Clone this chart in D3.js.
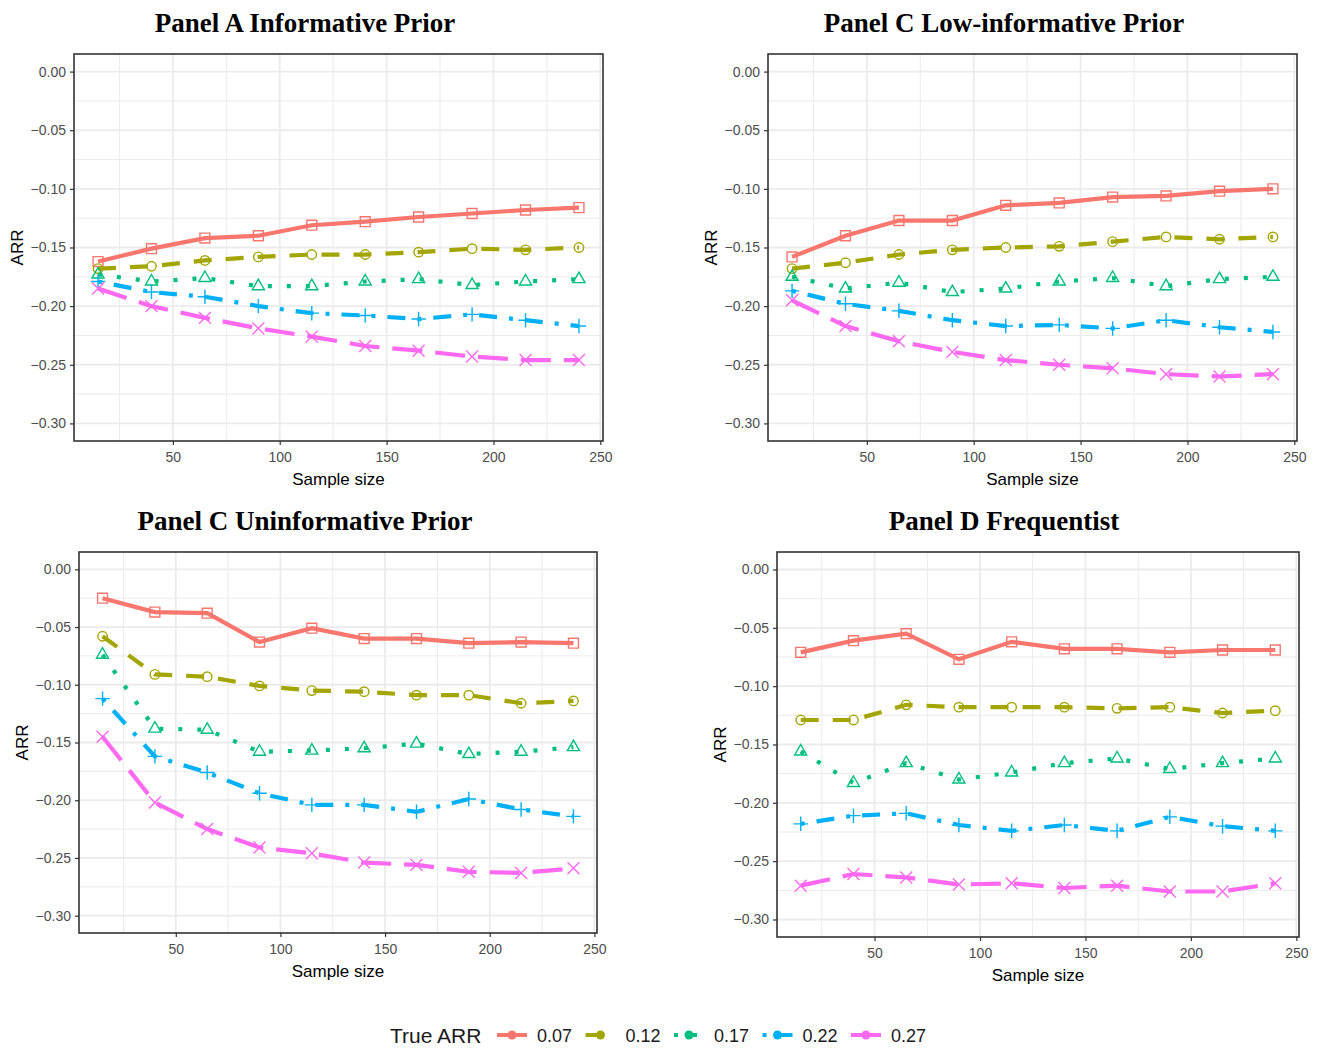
<!DOCTYPE html>
<html>
<head>
<meta charset="utf-8">
<script src="https://cdn.jsdelivr.net/npm/d3@7"></script>
<style>
    body { margin: 0; background: #fff; }
    svg text { font-family: "Liberation Sans", Arial, sans-serif; }
    .panel-title { font-family: "Liberation Serif", "Times New Roman", serif !important; font-weight: bold; }
</style>
</head>
<body>
<div id="chart"></div>
<script>

// x axis values (sample size per trial)
const sampleSizes = [15, 40, 65, 90, 115, 140, 165, 190, 215, 240];
const trueARR = ["0.07", "0.12", "0.17", "0.22", "0.27"];
const xTicks = [50, 100, 150, 200, 250];
const yTicks = [0, -0.05, -0.10, -0.15, -0.20, -0.25, -0.30];
const panelTitles = ["Panel A Informative Prior", "Panel C Low-informative Prior",
    "Panel C Uninformative Prior", "Panel D Frequentist"];

// estimated ARR, one row per true ARR (0.07 ... 0.27)
const informativePrior = [
    [-0.162, -0.151, -0.142, -0.140, -0.131, -0.128, -0.124, -0.121, -0.118, -0.116],
    [-0.168, -0.166, -0.161, -0.158, -0.156, -0.156, -0.154, -0.151, -0.152, -0.150],
    [-0.173, -0.179, -0.176, -0.183, -0.183, -0.179, -0.177, -0.182, -0.179, -0.177],
    [-0.179, -0.188, -0.192, -0.200, -0.206, -0.208, -0.211, -0.207, -0.212, -0.217],
    [-0.185, -0.200, -0.210, -0.219, -0.226, -0.234, -0.238, -0.243, -0.246, -0.246]
];
const lowInfoPrior = [
    [-0.158, -0.140, -0.127, -0.127, -0.114, -0.112, -0.107, -0.106, -0.102, -0.100],
    [-0.168, -0.163, -0.156, -0.152, -0.150, -0.149, -0.145, -0.141, -0.143, -0.141],
    [-0.175, -0.185, -0.180, -0.188, -0.185, -0.179, -0.176, -0.183, -0.177, -0.175],
    [-0.187, -0.198, -0.204, -0.212, -0.217, -0.216, -0.219, -0.212, -0.218, -0.222],
    [-0.195, -0.217, -0.230, -0.239, -0.246, -0.250, -0.253, -0.258, -0.260, -0.258]
];
const uninformativePrior = [
    [-0.025, -0.037, -0.038, -0.063, -0.051, -0.060, -0.060, -0.064, -0.063, -0.064],
    [-0.058, -0.091, -0.093, -0.101, -0.105, -0.106, -0.109, -0.109, -0.116, -0.114],
    [-0.074, -0.138, -0.139, -0.158, -0.157, -0.155, -0.151, -0.160, -0.158, -0.154],
    [-0.112, -0.162, -0.176, -0.194, -0.204, -0.204, -0.210, -0.199, -0.208, -0.214],
    [-0.145, -0.202, -0.225, -0.241, -0.246, -0.254, -0.256, -0.262, -0.263, -0.259]
];
const frequentist = [
    [-0.071, -0.061, -0.055, -0.077, -0.062, -0.068, -0.068, -0.071, -0.069, -0.069],
    [-0.129, -0.129, -0.116, -0.118, -0.118, -0.118, -0.119, -0.118, -0.123, -0.121],
    [-0.156, -0.183, -0.166, -0.180, -0.174, -0.166, -0.162, -0.171, -0.166, -0.162],
    [-0.218, -0.211, -0.209, -0.219, -0.224, -0.219, -0.224, -0.212, -0.220, -0.224],
    [-0.271, -0.261, -0.264, -0.270, -0.269, -0.273, -0.271, -0.276, -0.276, -0.269]
];

// ggplot default hue palette + line types + shapes
const colors = ['#F8766D', '#A3A500', '#00BF7D', '#00B0F6', '#FF68F0'];
const dashes = [null, '18,14', '4,15', '4,12,18,12', '30,13'];
const symbols = [
    d3.symbol().type(d3.symbolSquare2).size(125),
    d3.symbol().type(d3.symbolCircle).size(70),
    d3.symbol().type(d3.symbolTriangle2).size(105),
    d3.symbol().type(d3.symbolPlus).size(70),
    d3.symbol().type(d3.symbolTimes).size(95)
];


class PanelVis {

    constructor(svg, title, series, box) {
        this.svg = svg;
        this.title = title;
        this.series = series;
        this.box = box;

        this.initVis()
    }

    initVis() {
        let vis = this;
        let b = vis.box;

        vis.g = vis.svg.append('g').attr('class', 'panel');

        vis.x = d3.scaleLinear()
            .domain([3.75, 251.25])
            .range([b.x0, b.x1]);

        vis.y = d3.scaleLinear()
            .domain([-0.315, 0.015])
            .range([b.y1, b.y0]);

        // minor + major grid
        let xMinor = [25, 75, 125, 175, 225];
        let yMinor = [-0.025, -0.075, -0.125, -0.175, -0.225, -0.275];

        vis.g.selectAll('.x-minor').data(xMinor).enter().append('line')
            .attr('x1', d => vis.x(d)).attr('x2', d => vis.x(d))
            .attr('y1', b.y0).attr('y2', b.y1)
            .attr('stroke', '#EBEBEB').attr('stroke-width', 1);
        vis.g.selectAll('.y-minor').data(yMinor).enter().append('line')
            .attr('x1', b.x0).attr('x2', b.x1)
            .attr('y1', d => vis.y(d)).attr('y2', d => vis.y(d))
            .attr('stroke', '#EBEBEB').attr('stroke-width', 1);
        vis.g.selectAll('.x-major').data(xTicks).enter().append('line')
            .attr('x1', d => vis.x(d)).attr('x2', d => vis.x(d))
            .attr('y1', b.y0).attr('y2', b.y1)
            .attr('stroke', '#EBEBEB').attr('stroke-width', 1.8);
        vis.g.selectAll('.y-major').data(yTicks).enter().append('line')
            .attr('x1', b.x0).attr('x2', b.x1)
            .attr('y1', d => vis.y(d)).attr('y2', d => vis.y(d))
            .attr('stroke', '#EBEBEB').attr('stroke-width', 1.8);

        // axes
        let fmt = d3.format('.2f');
        vis.g.append('g')
            .attr('class', 'axis y-axis')
            .attr('transform', `translate(${b.x0}, 0)`)
            .call(d3.axisLeft(vis.y).tickValues(yTicks).tickFormat(fmt).tickSize(4).tickPadding(4));
        vis.g.append('g')
            .attr('class', 'axis x-axis')
            .attr('transform', `translate(0, ${b.y1})`)
            .call(d3.axisBottom(vis.x).tickValues(xTicks).tickSize(4).tickPadding(7));

        vis.g.selectAll('.axis .domain').remove();
        vis.g.selectAll('.axis line').attr('stroke', '#333333').attr('stroke-width', 1.2);
        vis.g.selectAll('.axis text')
            .attr('fill', '#4D4D4D')
            .style('font-size', '14px');

        // lines
        let line = d3.line()
            .x((d, i) => vis.x(sampleSizes[i]))
            .y(d => vis.y(d));

        vis.series.forEach((vals, k) => {
            vis.g.append('path')
                .datum(vals)
                .attr('fill', 'none')
                .attr('stroke', colors[k])
                .attr('stroke-width', 4.2)
                .attr('stroke-dasharray', dashes[k])
                .attr('d', line);

            vis.g.selectAll('.pt' + k).data(vals).enter().append('path')
                .attr('class', 'pt' + k)
                .attr('transform', (d, i) => `translate(${vis.x(sampleSizes[i])}, ${vis.y(d)})`)
                .attr('d', symbols[k])
                .attr('fill', 'none')
                .attr('stroke', colors[k])
                .attr('stroke-width', 1.4);
        })

        // panel border
        vis.g.append('rect')
            .attr('x', b.x0).attr('y', b.y0)
            .attr('width', b.x1 - b.x0).attr('height', b.y1 - b.y0)
            .attr('fill', 'none')
            .attr('stroke', '#333333')
            .attr('stroke-width', 1.6);

        // titles
        vis.g.append('text')
            .attr('class', 'panel-title')
            .attr('x', b.titleX)
            .attr('y', b.y0 - 22)
            .attr('text-anchor', 'middle')
            .style('font-size', '27px')
            .text(vis.title);

        vis.g.append('text')
            .attr('transform', `translate(${b.x0 - 51}, ${(b.y0 + b.y1) / 2}) rotate(-90)`)
            .attr('text-anchor', 'middle')
            .style('font-size', '17px')
            .text('ARR');

        vis.g.append('text')
            .attr('x', (b.x0 + b.x1) / 2)
            .attr('y', b.y1 + 44)
            .attr('text-anchor', 'middle')
            .style('font-size', '17px')
            .text('Sample size');
    }
}


// draw
let width = 1319, height = 1050;
let svg = d3.select('#chart').append('svg')
    .attr('width', width)
    .attr('height', height);

let boxes = [
    {x0: 74, y0: 54, x1: 603, y1: 441, titleX: 305},
    {x0: 768, y0: 54, x1: 1297, y1: 441, titleX: 1004},
    {x0: 79, y0: 552, x1: 597, y1: 933, titleX: 305},
    {x0: 777, y0: 552, x1: 1299, y1: 937, titleX: 1004}
];
let panelData = [informativePrior, lowInfoPrior, uninformativePrior, frequentist];

panelData.forEach((d, i) => new PanelVis(svg, panelTitles[i], d, boxes[i]));

// shared legend
let legend = svg.append('g').attr('class', 'legend');
legend.append('text')
    .attr('x', 390).attr('y', 1043)
    .style('font-size', '21px')
    .attr('fill', '#1a1a1a')
    .text('True ARR');

let keyX = d3.scaleLinear().domain([0, 4]).range([497, 851]);

trueARR.forEach((lab, k) => {
    let kx = keyX(k);
    legend.append('line')
        .attr('x1', kx).attr('x2', kx + 30)
        .attr('y1', 1035).attr('y2', 1035)
        .attr('stroke', colors[k])
        .attr('stroke-width', 4)
        .attr('stroke-dasharray', dashes[k]);
    legend.append('circle')
        .attr('cx', kx + 15).attr('cy', 1035).attr('r', 4.5)
        .attr('fill', colors[k]);
    legend.append('text')
        .attr('x', kx + 40).attr('y', 1042)
        .style('font-size', '18px')
        .attr('fill', '#1a1a1a')
        .text(lab);
});

</script>
</body>
</html>
